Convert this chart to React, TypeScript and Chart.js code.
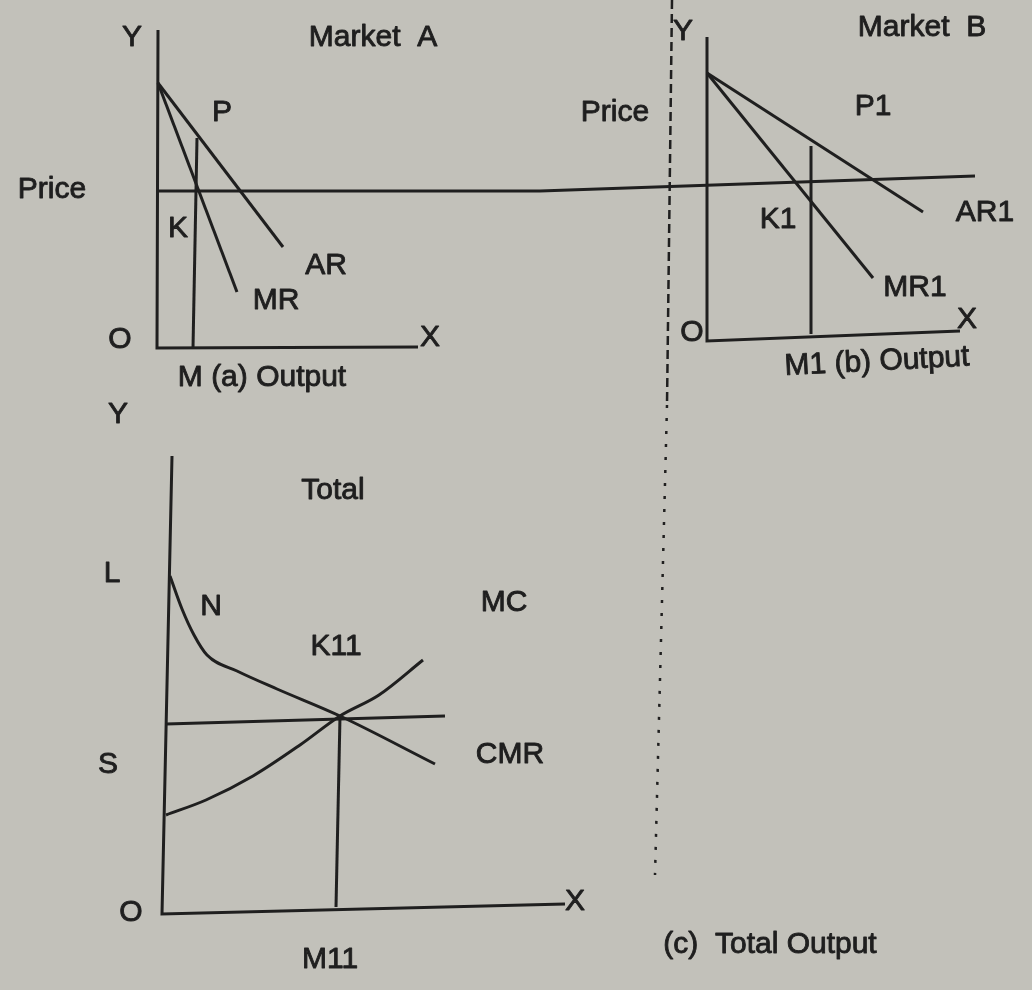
import React, { useEffect, useRef } from "react";
import { Chart, registerables } from "chart.js";

Chart.register(...registerables);

type Pt = [number, number];

// Diagram units: x grows to the right, y grows downward.
const WIDTH = 1032;
const HEIGHT = 990;

// (a) Market A
const axisA: Pt[] = [[158, 30], [157, 348], [418, 347]];
const arA: Pt[] = [[158, 83], [283, 247]];
const mrA: Pt[] = [[158, 83], [237, 292]];
const dropA: Pt[] = [[197, 138], [193, 348]];

// common price level running across both markets
const priceLevel: Pt[] = [[158, 191], [540, 191], [975, 176]];

// (b) Market B
const axisB: Pt[] = [[707, 37], [707, 341], [960, 331]];
const ar1: Pt[] = [[707, 73], [923, 212]];
const mr1: Pt[] = [[707, 73], [873, 278]];
const drop1: Pt[] = [[811, 146], [811, 334]];

// divider between the market panels and the total panel
const dividerTop: Pt[] = [[672, 0], [667, 405]];
const dividerBottom: Pt[] = [[667, 405], [655, 875]];

// (c) Total
const axisC: Pt[] = [[172, 456], [162, 914], [565, 904]];
const cmr: Pt[] = [[170, 576], [182, 609], [194, 635], [207, 655], [237, 671], [277, 689], [340, 716], [435, 764]];
const mc: Pt[] = [[166, 815], [206, 800], [253, 776], [300, 745], [340, 716], [379, 695], [423, 660]];
const levelC: Pt[] = [[166, 724], [445, 716]];
const dropC: Pt[] = [[340, 716], [336, 907]];

// annotation text with its anchor in diagram units
const labelText = [
  "Y", "Market  A", "P", "Price", "K", "AR", "MR", "O", "X", "M (a) Output", "Y",
  "Y", "Market  B", "Price", "P1", "K1", "AR1", "MR1", "O", "X", "M1 (b) Output",
  "Total", "L", "N", "MC", "K11", "S", "CMR", "O", "X", "M11", "(c)  Total Output",
];
const labelX = [
  132, 373, 222, 52, 178, 326, 276, 120, 430, 262, 118,
  683, 922, 615, 873, 778, 985, 915, 692, 967, 877,
  333, 112, 211, 504, 336, 108, 510, 131, 575, 330, 770,
];
const labelY = [
  38, 38, 113, 190, 229, 266, 301, 340, 338, 378, 415,
  32, 28, 113, 107, 220, 213, 288, 333, 320, 362,
  491, 574, 607, 603, 647, 765, 755, 913, 902, 960, 945,
];
const labelTilt = [
  0, 0, 0, 0, 0, 0, 0, 0, 0, 0, 0,
  0, 0, 0, 0, 0, 0, 0, 0, 0, -3,
  0, 0, 0, 0, 0, 0, 0, 0, 0, 0, 0,
];

const INK = "#1f1f1f";
const PAPER = "#c2c1ba";

const toXY = (pts: Pt[]) => pts.map(([x, y]) => ({ x, y }));

const lineSet = (pts: Pt[], extra: Record<string, unknown> = {}) => ({
  data: toXY(pts),
  showLine: true,
  borderColor: INK,
  borderWidth: 3,
  pointRadius: 0,
  fill: false,
  clip: false as const,
  borderJoinStyle: "miter" as const,
  ...extra,
});

const paperPlugin = {
  id: "paper",
  beforeDraw(chart: Chart) {
    const { ctx, width, height } = chart;
    ctx.save();
    ctx.fillStyle = PAPER;
    ctx.fillRect(0, 0, width, height);
    ctx.restore();
  },
};

const labelPlugin = {
  id: "labels",
  afterDatasetsDraw(chart: Chart) {
    const { ctx } = chart;
    const xs = chart.scales.x;
    const ys = chart.scales.y;
    ctx.save();
    ctx.fillStyle = INK;
    ctx.strokeStyle = INK;
    ctx.lineWidth = 0.9;
    ctx.lineJoin = "round";
    ctx.font = '30px "Liberation Sans", Arial, sans-serif';
    ctx.textAlign = "center";
    ctx.textBaseline = "middle";
    labelText.forEach((t, i) => {
      const px = xs.getPixelForValue(labelX[i]);
      const py = ys.getPixelForValue(labelY[i]);
      ctx.save();
      ctx.translate(px, py);
      if (labelTilt[i]) ctx.rotate((labelTilt[i] * Math.PI) / 180);
      ctx.fillText(t, 0, 0);
      ctx.strokeText(t, 0, 0);
      ctx.restore();
    });
    ctx.restore();
  },
};

export default function App() {
  const canvasRef = useRef<HTMLCanvasElement | null>(null);

  useEffect(() => {
    const canvas = canvasRef.current;
    if (!canvas) return;
    const curve = { cubicInterpolationMode: "monotone" as const };
    const chart = new Chart(canvas, {
      type: "scatter",
      data: {
        datasets: [
          lineSet(axisA),
          lineSet(arA),
          lineSet(mrA),
          lineSet(dropA),
          lineSet(priceLevel),
          lineSet(axisB),
          lineSet(ar1),
          lineSet(mr1),
          lineSet(drop1),
          lineSet(dividerTop, { borderDash: [9, 5], borderWidth: 2.5 }),
          lineSet(dividerBottom, { borderDash: [3, 10], borderWidth: 2.5 }),
          lineSet(axisC),
          lineSet(cmr, curve),
          lineSet(mc, curve),
          lineSet(levelC),
          lineSet(dropC),
        ],
      },
      options: {
        responsive: false,
        animation: false,
        devicePixelRatio: 1,
        events: [],
        layout: { padding: 0 },
        plugins: { legend: { display: false }, tooltip: { enabled: false } },
        scales: {
          x: { type: "linear", min: 0, max: WIDTH, display: false },
          y: { type: "linear", min: 0, max: HEIGHT, reverse: true, display: false },
        },
      },
      plugins: [paperPlugin, labelPlugin],
    });
    return () => chart.destroy();
  }, []);

  return (
    <div style={{ position: "fixed", left: 0, top: 0, width: WIDTH, height: HEIGHT }}>
      <canvas ref={canvasRef} width={WIDTH} height={HEIGHT} style={{ display: "block" }} />
    </div>
  );
}
